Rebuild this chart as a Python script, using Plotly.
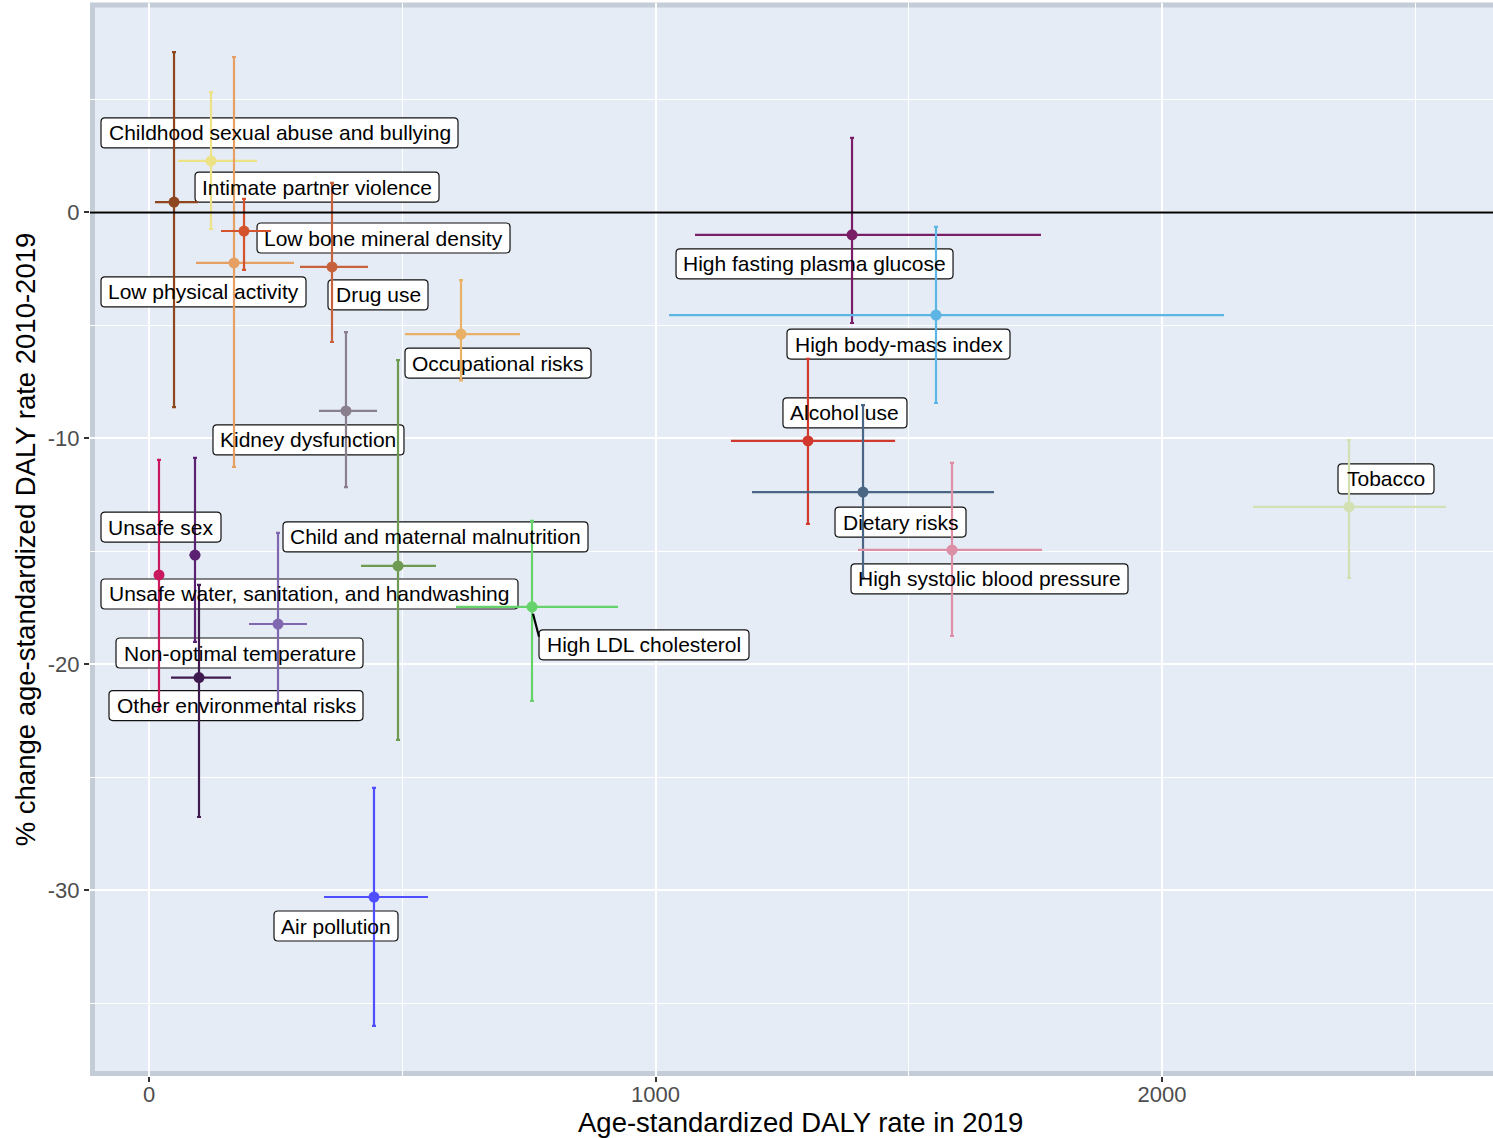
import plotly.graph_objects as go

# ---------------- data ----------------
risks = [
    "Childhood sexual abuse and bullying", "Intimate partner violence",
    "Low physical activity", "Low bone mineral density", "Drug use",
    "Occupational risks", "Kidney dysfunction", "Unsafe sex",
    "Unsafe water, sanitation, and handwashing", "Non-optimal temperature",
    "Other environmental risks", "Child and maternal malnutrition",
    "High LDL cholesterol", "Air pollution", "High fasting plasma glucose",
    "High body-mass index", "Alcohol use", "Dietary risks",
    "High systolic blood pressure", "Tobacco",
]
daly_rate = [122.4, 49.4, 167.8, 187.6, 361.3, 616.0, 388.9, 90.8, 19.7, 254.7,
             98.7, 491.6, 756.2, 444.2, 1388.0, 1553.8, 1301.0, 1409.7, 1585.4, 2369.2]
daly_lo = [57.3, 11.8, 92.8, 142.2, 298.1, 505.4, 335.6, 80.0, 11.8, 197.4,
           43.4, 418.6, 606.1, 345.5, 1078.0, 1026.7, 1149.0, 1190.5, 1399.8, 2179.7]
daly_hi = [213.2, 96.7, 286.3, 240.9, 432.4, 732.5, 450.2, 101.0, 27.6, 311.9,
           161.9, 566.6, 925.9, 550.8, 1761.0, 2122.4, 1473.0, 1668.3, 1763.1, 2560.7]
pct_change = [2.28, 0.46, -2.23, -0.82, -2.41, -5.38, -8.78, -15.16, -16.04, -18.21,
              -20.58, -15.64, -17.45, -30.29, -0.99, -4.54, -10.11, -12.37, -14.93, -13.03]
pct_lo = [-0.73, -8.61, -11.26, -2.54, -5.73, -7.43, -12.15, -19.0, -22.01, -21.75,
          -26.75, -23.34, -21.61, -35.99, -4.89, -8.43, -13.78, -16.17, -18.74, -16.17]
pct_hi = [5.33, 7.10, 6.88, 0.60, 1.31, -2.99, -5.29, -10.86, -10.95, -14.18,
          -16.48, -6.53, -13.65, -25.46, 3.30, -0.64, -6.48, -8.52, -11.08, -10.07]

x_ticks = [0, 1000, 2000]
y_ticks = [-30, -20, -10, 0]

# ---------------- styles ----------------
colors = ["#EEE287", "#8E461F", "#E6A063", "#D2532C", "#C6633C", "#E8B165", "#8A7F8D",
          "#5B2272", "#C8195E", "#8068B0", "#3E1A4F", "#6E9B51", "#66D36A", "#4F4FFF",
          "#7B1E68", "#5DB5E3", "#D2392E", "#4A6684", "#DC8FA5", "#D3E0B3"]
# label box centre offsets from the point (screen px, +y down) and box widths (px)
label_dx = [68.5, 143, -30.5, 139.5, 46, 37, -37.5, -34, 150.5, -38.5,
            37, 37.5, 112, -38, -37.5, -37.5, 37, 37.5, 37.5, 37]
label_dy = [-28, -15, 29, 7, 28, 29, 29, -28, 19, 29,
            28, -29, 38, 29, 29, 29, -28, 30, 29, -28]
label_w = [357, 244, 205, 253, 100, 186, 191, 120, 417, 247,
           254, 305, 210, 124, 277, 223, 124, 131, 277, 96]
BOX_H = 30
FONT = "Liberation Sans, Arial, Helvetica, sans-serif"

fig = go.Figure()

for i, name in enumerate(risks):
    fig.add_trace(go.Scatter(
        x=[daly_rate[i]], y=[pct_change[i]], mode="markers", name=name,
        marker=dict(color=colors[i], size=11),
        error_x=dict(type="data", symmetric=False,
                     array=[daly_hi[i] - daly_rate[i]],
                     arrayminus=[daly_rate[i] - daly_lo[i]],
                     color=colors[i], thickness=2.2, width=0),
        error_y=dict(type="data", symmetric=False,
                     array=[pct_hi[i] - pct_change[i]],
                     arrayminus=[pct_change[i] - pct_lo[i]],
                     color=colors[i], thickness=2.2, width=2),
        showlegend=False,
    ))

shapes = []
annotations = []


def rounded_box(cx, cy, hw, hh, r=4):
    return (f"M {cx-hw+r},{cy-hh} L {cx+hw-r},{cy-hh} Q {cx+hw},{cy-hh} {cx+hw},{cy-hh+r} "
            f"L {cx+hw},{cy+hh-r} Q {cx+hw},{cy+hh} {cx+hw-r},{cy+hh} "
            f"L {cx-hw+r},{cy+hh} Q {cx-hw},{cy+hh} {cx-hw},{cy+hh-r} "
            f"L {cx-hw},{cy-hh+r} Q {cx-hw},{cy-hh} {cx-hw+r},{cy-hh} Z")


for i, name in enumerate(risks):
    cx = label_dx[i]
    cy = -label_dy[i]
    shapes.append(dict(
        type="path", xref="x", yref="y", xsizemode="pixel", ysizemode="pixel",
        xanchor=daly_rate[i], yanchor=pct_change[i],
        path=rounded_box(cx, cy, label_w[i] / 2, BOX_H / 2),
        fillcolor="white", line=dict(color="#111111", width=1.2), layer="between",
    ))
    annotations.append(dict(
        x=daly_rate[i], y=pct_change[i], xref="x", yref="y", text=name,
        showarrow=False, xshift=label_dx[i], yshift=-label_dy[i],
        xanchor="center", yanchor="middle",
        font=dict(family=FONT, size=21, color="black"),
    ))

# leader segment for High LDL cholesterol
ldl = risks.index("High LDL cholesterol")
shapes.append(dict(type="line", xref="x", yref="y", xsizemode="pixel", ysizemode="pixel",
                   xanchor=daly_rate[ldl], yanchor=pct_change[ldl],
                   x0=1, y0=-7, x1=7, y1=-30, line=dict(color="black", width=2.2),
                   layer="above"))

# zero reference line
shapes.append(dict(type="line", xref="paper", x0=0, x1=1, yref="y", y0=0, y1=0,
                   line=dict(color="black", width=2), layer="above"))

# panel border (top, left, bottom)
W = 1493 - 90
H = 1076 - 3
BC = "#C3CCD7"
shapes.append(dict(type="line", xref="paper", yref="paper", x0=2.5 / W, x1=2.5 / W, y0=0, y1=1,
                   line=dict(color=BC, width=5), layer="below"))
shapes.append(dict(type="line", xref="paper", yref="paper", x0=0, x1=1, y0=1 - 2 / H, y1=1 - 2 / H,
                   line=dict(color=BC, width=5), layer="below"))
shapes.append(dict(type="line", xref="paper", yref="paper", x0=0, x1=1, y0=2.5 / H, y1=2.5 / H,
                   line=dict(color=BC, width=5), layer="below"))

# x-axis title (centred on the full ggplot panel, which runs past the right edge)
annotations.append(dict(
    text="Age-standardized DALY rate in 2019", xref="paper", yref="paper",
    x=(800 - 90) / W, y=(1076 - 1123) / H, xanchor="center", yanchor="middle",
    showarrow=False, font=dict(family=FONT, size=27.5, color="black"),
))

fig.update_layout(
    width=1493, height=1138,
    margin=dict(l=90, r=0, t=3, b=62, autoexpand=False),
    paper_bgcolor="white", plot_bgcolor="#E5ECF6",
    font=dict(family=FONT),
    shapes=shapes, annotations=annotations,
    xaxis=dict(
        range=[-116.5, 2653.5], tickvals=x_ticks, ticktext=[str(v) for v in x_ticks],
        showgrid=True, gridcolor="white", gridwidth=2, zeroline=False,
        minor=dict(tickvals=[500, 1500, 2500], showgrid=True, gridcolor="white", gridwidth=1, ticks=""),
        ticks="outside", ticklen=5, tickwidth=1.5, tickcolor="#333333",
        tickfont=dict(family=FONT, size=22, color="#4D4D4D"), ticklabelstandoff=-6,
        automargin=False, showline=False,
    ),
    yaxis=dict(
        range=[-38.21, 9.27], tickvals=y_ticks, ticktext=[str(v) for v in y_ticks],
        showgrid=True, gridcolor="white", gridwidth=2, zeroline=False,
        minor=dict(tickvals=[-35, -25, -15, -5, 5], showgrid=True, gridcolor="white", gridwidth=1, ticks=""),
        ticks="outside", ticklen=5, tickwidth=1.5, tickcolor="#333333",
        tickfont=dict(family=FONT, size=22, color="#4D4D4D"),
        title=dict(text="% change age-standardized DALY rate 2010-2019", standoff=4,
                   font=dict(family=FONT, size=27.5, color="black")),
        automargin=False, showline=False,
    ),
)

fig.write_html("out.html", config={"displayModeBar": False},
               post_script="document.body.style.margin='0';document.body.style.overflow='hidden';")
